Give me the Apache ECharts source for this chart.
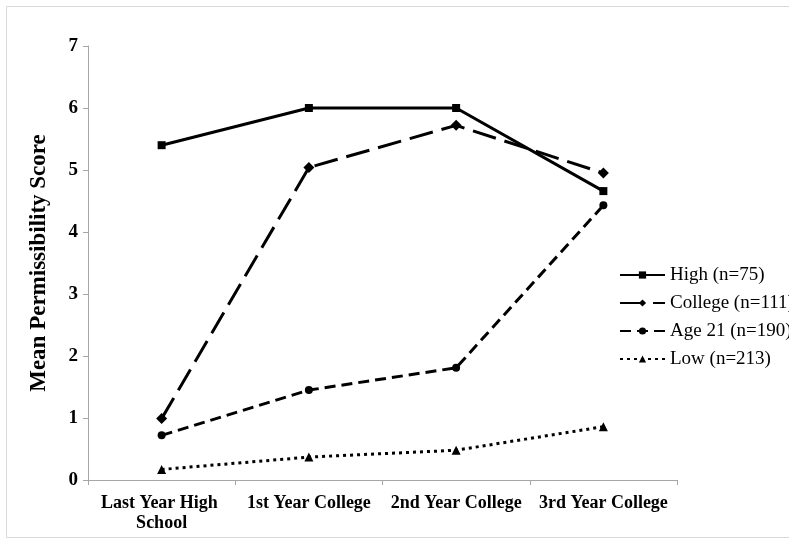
<!DOCTYPE html>
<html>
<head>
<meta charset="utf-8">
<title>Mean Permissibility Score</title>
<script src="https://cdn.jsdelivr.net/npm/echarts@6/dist/echarts.min.js"></script>
<style>
  html, body { margin: 0; padding: 0; background: #ffffff; }
  #chart { width: 789px; height: 545px; }
</style>
</head>
<body>
<div id="chart"></div>
<script>
// Time points along the horizontal axis
var categories = ['Last Year High School', '1st Year College', '2nd Year College', '3rd Year College'];

// Mean permissibility score per group at each time point
var highValues = [5.40, 6.00, 6.00, 4.66];
var collegeValues = [0.99, 5.04, 5.72, 4.95];
var age21Values = [0.72, 1.45, 1.81, 4.43];
var lowValues = [0.17, 0.37, 0.48, 0.86];

var seriesNames = ['High (n=75)', 'College (n=111)', 'Age 21 (n=190)', 'Low (n=213)'];
var yTicks = [0, 1, 2, 3, 4, 5, 6, 7];

var serif = '"Liberation Serif", "Times New Roman", serif';
var axisGray = '#a6a6a6';

var chart = echarts.init(document.getElementById('chart'), null, { renderer: 'canvas' });

function lineSeries(name, data, symbol, symbolSize, dash) {
  return {
    name: name,
    type: 'line',
    data: data,
    symbol: symbol,
    symbolSize: symbolSize,
    showAllSymbol: true,
    itemStyle: { color: '#000000' },
    lineStyle: { color: '#000000', width: 3, type: dash, cap: 'butt' },
    emphasis: { disabled: true },
    animation: false
  };
}

chart.setOption({
  backgroundColor: '#ffffff',
  animation: false,
  graphic: [{
    type: 'rect',
    shape: { x: 6.5, y: 6.5, width: 820, height: 531 },
    style: { fill: 'none', stroke: '#d9d9d9', lineWidth: 1 },
    silent: true,
    z: -1
  }],
  grid: { left: 88, right: 112, top: 46, bottom: 65, containLabel: false },
  legend: {
    data: seriesNames,
    orient: 'vertical',
    left: 619,
    top: 265,
    padding: 0,
    itemWidth: 45,
    itemHeight: 9,
    itemGap: 8,
    textStyle: { fontFamily: serif, fontSize: 19, lineHeight: 20, color: '#000000' },
    selectedMode: false
  },
  xAxis: {
    type: 'category',
    data: categories,
    boundaryGap: true,
    axisLine: { lineStyle: { color: axisGray, width: 1 } },
    axisTick: { show: true, length: 5, alignWithLabel: false, lineStyle: { color: axisGray } },
    axisLabel: {
      interval: 0,
      margin: 13,
      fontFamily: serif,
      fontWeight: 'bold',
      fontSize: 18,
      lineHeight: 20,
      color: '#000000',
      width: 140,
      overflow: 'break'
    },
    splitLine: { show: false }
  },
  yAxis: {
    type: 'value',
    min: yTicks[0],
    max: yTicks[yTicks.length - 1],
    interval: 1,
    name: 'Mean Permissibility Score',
    nameLocation: 'middle',
    nameGap: 37,
    nameRotate: 90,
    nameTextStyle: { fontFamily: serif, fontWeight: 'bold', fontSize: 23, color: '#000000' },
    axisLine: { show: true, lineStyle: { color: axisGray, width: 1 } },
    axisTick: { show: true, length: 5, lineStyle: { color: axisGray } },
    axisLabel: { margin: 10, fontFamily: serif, fontWeight: 'bold', fontSize: 19, color: '#000000' },
    splitLine: { show: false }
  },
  series: [
    lineSeries(seriesNames[0], highValues, 'rect', 8, 'solid'),
    lineSeries(seriesNames[1], collegeValues, 'diamond', 11, [24, 9]),
    lineSeries(seriesNames[2], age21Values, 'circle', 8, [11, 6]),
    lineSeries(seriesNames[3], lowValues, 'triangle', 9, [3, 4])
  ]
});
</script>
</body>
</html>
